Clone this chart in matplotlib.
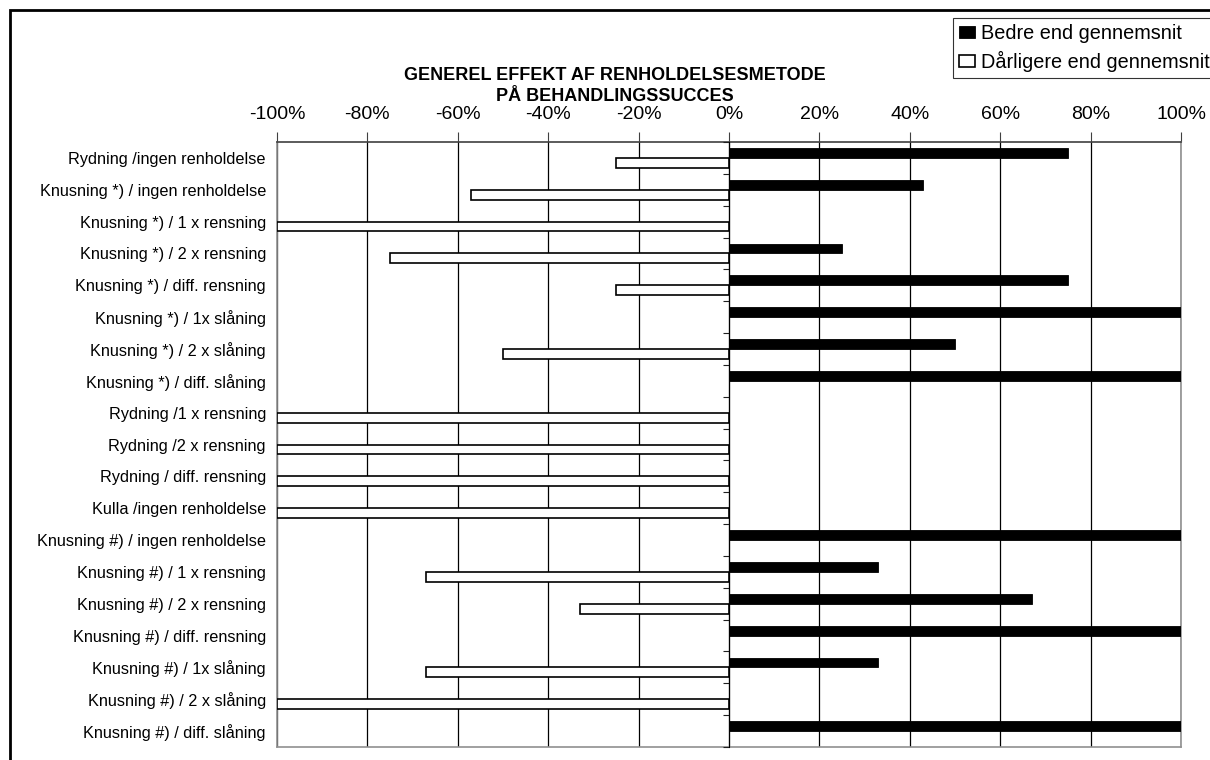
import numpy as np
import matplotlib
matplotlib.use('Agg')
import matplotlib.pyplot as plt
from matplotlib.ticker import FuncFormatter, MultipleLocator
from matplotlib.patches import Rectangle

plt.rcParams['font.family'] = ['Liberation Sans', 'DejaVu Sans']
plt.rcParams['axes.unicode_minus'] = False

kategorier = [
    'Rydning /ingen renholdelse',
    'Knusning *) / ingen renholdelse',
    'Knusning *) / 1 x rensning',
    'Knusning *) / 2 x rensning',
    'Knusning *) / diff. rensning',
    'Knusning *) / 1x slåning',
    'Knusning *) / 2 x slåning',
    'Knusning *) / diff. slåning',
    'Rydning /1 x rensning',
    'Rydning /2 x rensning',
    'Rydning / diff. rensning',
    'Kulla /ingen renholdelse',
    'Knusning #) / ingen renholdelse',
    'Knusning #) / 1 x rensning',
    'Knusning #) / 2 x rensning',
    'Knusning #) / diff. rensning',
    'Knusning #) / 1x slåning',
    'Knusning #) / 2 x slåning',
    'Knusning #) / diff. slåning',
]
# andel i procent
bedre = [75, 43, 0, 25, 75, 100, 50, 100, 0, 0, 0, 0, 100, 33, 67, 100, 33, 0, 100]
daarligere = [-25, -57, -100, -75, -25, 0, -50, 0, -100, -100, -100, -100, 0, -67, -33, 0, -67, -100, 0]

bedre = np.array(bedre) / 100
daarligere = np.array(daarligere) / 100
y = np.arange(len(kategorier))

fig = plt.figure(figsize=(12.1, 7.6), dpi=100)
ax = fig.add_axes([277 / 1210, 1 - 747 / 760, 904 / 1210, 605 / 760])

h = 0.31
m1 = bedre != 0
m2 = daarligere != 0
ax.barh(y[m1] - h / 2, bedre[m1], height=h, color='black', edgecolor='black', linewidth=0.6,
        label='Bedre end gennemsnit', zorder=3)
ax.barh(y[m2] + h / 2, daarligere[m2], height=h, color='white', edgecolor='black', linewidth=1.2,
        label='Dårligere end gennemsnit', zorder=3)

ax.set_xlim(-1, 1)
ax.set_ylim(len(kategorier) - 0.5, -0.5)
ax.xaxis.set_major_locator(MultipleLocator(0.2))
ax.xaxis.set_major_formatter(FuncFormatter(lambda v, p: '%d%%' % round(v * 100)))
ax.xaxis.tick_top()
ax.tick_params(axis='x', direction='out', length=7, color='#404040', labelsize=14, pad=7)
ax.set_yticks(y)
ax.set_yticklabels(kategorier, fontsize=11.7)
ax.tick_params(axis='y', length=0, pad=8)
ax.grid(axis='x', color='black', linewidth=0.9, zorder=0)
ax.spines['top'].set_color('#404040')
ax.spines['top'].set_linewidth(1.2)
for s in ['left', 'right', 'bottom']:
    ax.spines[s].set_color('#909090')
    ax.spines[s].set_linewidth(1.2)

# kategoriakse ved 0%
ax0 = ax.secondary_yaxis(0.5)
ax0.set_yticks(np.arange(len(kategorier) + 1) - 0.5)
ax0.set_yticklabels([])
ax0.tick_params(direction='in', length=4, color='#202020')
ax0.spines['left'].set_color('#808080')
ax0.spines['left'].set_linewidth(1.5)
ax0.set_zorder(4)

fig.text(615 / 1210, 1 - 86 / 760, 'GENEREL EFFEKT AF RENHOLDELSESMETODE\nPÅ BEHANDLINGSSUCCES',
         ha='center', va='center', fontsize=13, fontweight='bold', linespacing=1.33)

leg = fig.legend(loc='upper left', bbox_to_anchor=(953 / 1210, 1 - 18 / 760), fontsize=14.3,
                 frameon=True, fancybox=False, edgecolor='black', handlelength=0.8, handleheight=0.6,
                 handletextpad=0.3, borderpad=0.3, labelspacing=0.4, borderaxespad=0)
leg.get_frame().set_linewidth(0.8)

# ramme om diagrammet
fig.patches.append(Rectangle((10 / 1210, -0.1), 1.2, 1 - 10 / 760 + 0.1, transform=fig.transFigure,
                             fill=False, edgecolor='black', linewidth=2, clip_on=False))

fig.savefig('out.png', dpi=100)
